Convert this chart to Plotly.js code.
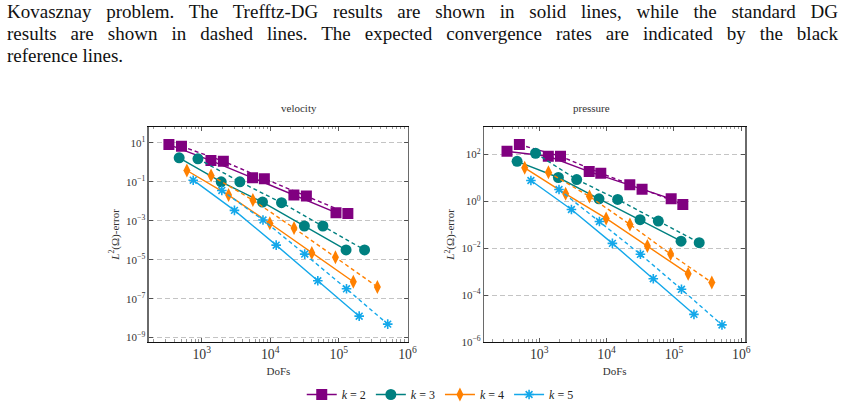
<!DOCTYPE html>
<html>
<head>
<meta charset="utf-8">
<script src="https://cdn.plot.ly/plotly-3.0.1.min.js"></script>
<style>
  html, body { margin: 0; padding: 0; background: #fff; }
  #wrap { position: relative; width: 845px; height: 409px; overflow: hidden; }
  #chart { position: absolute; left: 0; top: 0; width: 845px; height: 409px; }
  .cap { position: absolute; left: 7px; width: 831px; white-space: nowrap;
         font-family: "Liberation Serif", "DejaVu Serif", serif; font-size: 19px;
         line-height: 22px; color: #111; }
  .just { text-align: justify; text-align-last: justify; }
</style>
</head>
<body>
<div id="wrap">
  <div id="chart"></div>
  <div class="cap just" style="top:1px">Kovasznay problem. The Trefftz-DG results are shown in solid lines, while the standard DG</div>
  <div class="cap just" style="top:23px">results are shown in dashed lines. The expected convergence rates are indicated by the black</div>
  <div class="cap" style="top:45px">reference lines.</div>
</div>
<script>
// Polynomial degrees
const degrees = [2, 3, 4, 5];

// Degrees of freedom per mesh level (Trefftz-DG = T, standard DG = S)
const dofsK2T = [333, 1365, 5520, 22100, 90800];
const dofsK2S = [508, 2070, 8200, 33600, 135200];
const dofsK3T = [470, 1926, 7710, 31400, 127300];
const dofsK3S = [883, 3600, 14590, 58500, 236600];
const dofsK4T = [609, 2465, 9840, 40300, 162200];
const dofsK4S = [1371, 5580, 22200, 89100, 363700];
const dofsK5T = [753, 3006, 12190, 49300, 197700];
const dofsK5S = [1968, 7830, 31770, 129100, 515200];

// Velocity L2 errors
const velK2T = [8.2, 1.24, 0.162, 0.021, 0.0026];
const velK2S = [6.7, 1.15, 0.145, 0.0187, 0.0024];
const velK3T = [1.71, 0.101, 0.0091, 5.4e-4, 3.2e-5];
const velK3S = [1.52, 0.101, 0.0085, 5.4e-4, 3.2e-5];
const velK4T = [0.383, 0.021, 7.5e-4, 2.2e-5, 7.4e-7];
const velK4S = [0.212, 0.0116, 4.2e-4, 1.32e-5, 4.0e-7];
const velK5T = [0.122, 3.44e-3, 5.6e-5, 8.3e-7, 1.26e-8];
const velK5S = [0.0363, 1.1e-3, 1.95e-5, 3.2e-7, 4.9e-9];

// Pressure L2 errors
const preK2T = [138, 84.7, 18.8, 5.1, 1.29];
const preK2S = [267, 84.7, 16, 3.3, 0.74];
const preK3T = [51.8, 10.5, 1.29, 0.165, 0.0201];
const preK3S = [114, 8.6, 1.21, 0.144, 0.0172];
const preK4T = [27.1, 2.11, 0.187, 0.0123, 8.2e-4];
const preK4S = [17.6, 1.62, 0.104, 0.0056, 3.4e-4];
const preK5T = [7.8, 0.453, 0.0161, 5.0e-4, 1.5e-5];
const preK5S = [3.22, 0.139, 0.0055, 1.76e-4, 5.3e-6];

// Error-axis tick exponents
const velTickExp = [1, -1, -3, -5, -7, -9];
const preTickExp = [2, 0, -2, -4, -6];

const dofsT = [dofsK2T, dofsK3T, dofsK4T, dofsK5T];
const dofsS = [dofsK2S, dofsK3S, dofsK4S, dofsK5S];
const velT = [velK2T, velK3T, velK4T, velK5T];
const velS = [velK2S, velK3S, velK4S, velK5S];
const preT = [preK2T, preK3T, preK4T, preK5T];
const preS = [preK2S, preK3S, preK4S, preK5S];

const colors = ['#800080', '#008080', '#FF8000', '#14A8EA'];
const symbols = ['square', 'circle', 'diamond-tall', 'asterisk-open'];
const sizes = [11, 11, 10, 8];

const SERIF = '"Liberation Serif", "DejaVu Serif", serif';
const powLabel = e => '10<sup>' + (e < 0 ? '\u2212' + (-e) : e) + '</sup>';

function markerFor(i) {
  const m = { symbol: symbols[i], size: sizes[i], color: colors[i] };
  m.line = symbols[i] === 'asterisk-open'
    ? { color: colors[i], width: 1.6 }
    : { width: 0 };
  return m;
}

const traces = [];
[['x', 'y', velT, velS], ['x2', 'y2', preT, preS]].forEach(([xa, ya, errT, errS], p) => {
  degrees.forEach((k, i) => {
    traces.push({
      x: dofsS[i], y: errS[i], xaxis: xa, yaxis: ya, type: 'scatter',
      mode: 'lines+markers', showlegend: false, hoverinfo: 'skip',
      line: { color: colors[i], width: 1.4, dash: '4px,3px' },
      marker: markerFor(i)
    });
    traces.push({
      x: dofsT[i], y: errT[i], xaxis: xa, yaxis: ya, type: 'scatter',
      mode: 'lines+markers', showlegend: p === 0, name: '<i>k</i> = ' + k,
      hoverinfo: 'skip',
      line: { color: colors[i], width: 1.4 },
      marker: markerFor(i)
    });
  });
});

function xAxis(domain, range, anchor) {
  return {
    type: 'log', domain: domain, range: range, anchor: anchor,
    tickmode: 'linear', tick0: 0, dtick: 1, exponentformat: 'power', showexponent: 'all',
    ticks: 'inside', ticklen: 4, tickwidth: 0.8, tickcolor: '#333',
    minor: { dtick: 'D1', ticks: 'inside', ticklen: 2.5, tickwidth: 0.6, tickcolor: '#555', showgrid: false },
    showline: true, linecolor: '#111', linewidth: 1, mirror: 'allticks',
    showgrid: false, zeroline: false,
    tickfont: { family: SERIF, size: 11, color: '#333' },
    title: { text: 'DoFs', font: { family: SERIF, size: 11, color: '#333' }, standoff: 6 }
  };
}
function yAxis(domain, range, exps, anchor) {
  return {
    type: 'log', domain: domain, range: range, anchor: anchor,
    tickmode: 'array', tickvals: exps.map(e => Math.pow(10, e)), ticktext: exps.map(powLabel),
    ticks: 'inside', ticklen: 4, tickwidth: 0.8, tickcolor: '#333',
    showline: true, linecolor: '#6a6a6a', linewidth: 1.5, mirror: 'allticks',
    showgrid: true, gridcolor: '#c4c4c4', gridwidth: 1, griddash: '5px,3px',
    zeroline: false,
    tickfont: { family: SERIF, size: 11, color: '#333' },
    title: { text: '<i>L</i><sup>2</sup>(Ω)-error', font: { family: SERIF, size: 11, color: '#333' }, standoff: 4 }
  };
}

const yDom = [0.1621, 0.6888];
const layout = {
  width: 845, height: 409,
  margin: { l: 0, r: 0, t: 0, b: 0 },
  paper_bgcolor: '#fff', plot_bgcolor: '#fff',
  showlegend: true,
  legend: {
    orientation: 'h', x: 0.521, xanchor: 'center', y: 0.032, yanchor: 'middle',
    font: { family: SERIF, size: 12, color: '#222' },
    itemwidth: 30, tracegroupgap: 0, bgcolor: 'rgba(0,0,0,0)'
  },
  xaxis: xAxis([0.1763, 0.4828], [2.232, 6.007], 'y'),
  yaxis: yAxis(yDom, [-9.22, 1.82], velTickExp, 'x'),
  xaxis2: xAxis([0.5731, 0.8817], [2.185, 6.054], 'y2'),
  yaxis2: yAxis(yDom, [-6, 3.18], preTickExp, 'x2'),
  annotations: [
    { text: 'velocity', x: 0.330, y: 0.736, yanchor: 'middle', xref: 'paper', yref: 'paper', showarrow: false,
      font: { family: SERIF, size: 11, color: '#333' } },
    { text: 'pressure', x: 0.7245, y: 0.736, yanchor: 'middle', xref: 'paper', yref: 'paper', showarrow: false,
      font: { family: SERIF, size: 11, color: '#333' } }
  ]
};

Plotly.newPlot('chart', traces, layout, { staticPlot: true, displayModeBar: false });
</script>
</body>
</html>
